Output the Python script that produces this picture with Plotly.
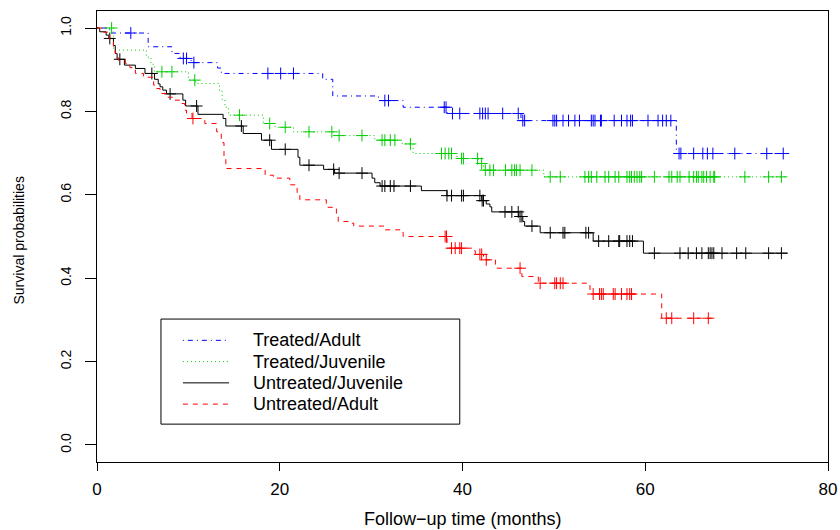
import plotly.graph_objects as go

# ---- Kaplan–Meier estimates (time in months) ----
# Treated/Adult
ta_times = [1.4, 5.6, 8.2, 9.1, 10.3, 13.2, 13.6, 24.7, 25.8, 30.8, 33.5, 38.3, 46.4, 63.4]
ta_surv = [0.988, 0.955, 0.939, 0.927, 0.917, 0.904, 0.891, 0.877, 0.837, 0.826, 0.810, 0.795, 0.778, 0.699]
ta_cens = [3.7, 9.45, 9.8, 10.6, 18.7, 20.1, 21.5, 31.5, 31.9, 38.0, 38.2, 38.9, 39.7, 41.9, 42.2, 42.5,
           42.8, 44.4, 46.1, 46.6, 46.8, 49.9, 50.1, 50.3, 51.0, 51.6, 52.3, 52.8, 54.1, 54.3, 54.5, 55.1,
           55.2, 56.6, 57.4, 58.0, 58.4, 58.6, 60.3, 61.4, 61.9, 62.3, 62.8, 63.7, 63.9, 65.3, 66.3, 66.8,
           67.4, 69.8, 73.3, 75.1]
ta_end = 75.6

# Treated/Juvenile
tj_times = [1.8, 5.4, 5.9, 6.3, 10.0, 10.8, 13.4, 13.7, 14.0, 14.4, 18.2, 19.5, 21.5, 25.9, 30.4, 33.4,
            34.6, 39.4, 41.7, 42.3, 48.9]
tj_surv = [0.947, 0.930, 0.913, 0.895, 0.875, 0.867, 0.848, 0.829, 0.810, 0.791, 0.771, 0.762, 0.751,
           0.742, 0.731, 0.722, 0.699, 0.687, 0.675, 0.659, 0.643]
tj_cens = [1.6, 7.1, 8.2, 10.7, 15.6, 18.9, 20.6, 23.2, 25.7, 26.5, 29.0, 31.2, 31.5, 32.1, 32.6, 34.3,
           37.7, 38.1, 38.5, 38.8, 39.9, 40.1, 41.65, 42.1, 42.5, 43.0, 43.4, 44.7, 45.4, 45.7, 45.9, 46.3,
           47.6, 49.6, 50.7, 53.4, 53.8, 54.1, 54.7, 55.6, 56.0, 56.7, 57.1, 58.0, 58.3, 58.5, 58.8, 59.1,
           59.4, 59.6, 61.0, 62.6, 62.9, 63.5, 63.8, 64.8, 65.3, 65.6, 65.8, 66.2, 66.4, 66.7, 67.1, 67.5,
           67.6, 70.9, 73.5, 74.9]
tj_end = 75.4

# Untreated/Juvenile
uj_times = [0.3, 1.0, 1.3, 1.8, 2.0, 2.2, 3.0, 4.2, 5.25, 6.3, 6.7, 6.9, 7.2, 7.6, 9.4, 9.7, 11.05, 13.8,
            14.1, 16.0, 18.0, 19.1, 22.0, 22.2, 24.8, 26.0, 30.1, 30.4, 30.98, 35.5, 38.3, 42.1, 42.6,
            43.0, 43.2, 46.15, 46.6, 46.8, 48.5, 54.3, 59.8]
uj_surv = [0.991, 0.983, 0.975, 0.958, 0.939, 0.925, 0.911, 0.903, 0.891, 0.877, 0.866, 0.859, 0.851,
           0.842, 0.827, 0.813, 0.793, 0.783, 0.765, 0.747, 0.731, 0.709, 0.690, 0.671, 0.661, 0.652,
           0.640, 0.629, 0.621, 0.610, 0.598, 0.586, 0.578, 0.571, 0.559, 0.548, 0.536, 0.525, 0.509,
           0.489, 0.460]
uj_cens = [1.4, 2.5, 6.0, 8.0, 10.9, 15.8, 18.9, 20.6, 23.2, 25.9, 26.5, 29.0, 31.2, 31.5, 32.1, 32.5,
           34.3, 38.3, 38.8, 39.9, 40.1, 41.9, 42.15, 42.3, 44.65, 45.4, 46.1, 46.3, 46.5, 47.6, 49.6,
           51.0, 51.2, 53.5, 53.8, 54.9, 56.0, 57.1, 57.2, 58.0, 58.3, 58.6, 61.0, 63.8, 64.7, 65.6, 66.2,
           66.9, 67.1, 67.3, 67.5, 68.4, 70.0, 71.0, 73.5, 74.9]
uj_end = 75.6

# Untreated/Adult
ua_times = [0.7, 1.4, 1.8, 2.0, 2.3, 3.1, 3.6, 4.2, 5.1, 6.2, 6.5, 6.9, 7.6, 8.3, 9.3, 9.6, 9.8, 10.4,
            11.8, 13.1, 13.6, 13.9, 14.1, 18.4, 19.3, 21.1, 21.9, 22.2, 25.1, 26.2, 26.4, 27.5, 28.1,
            31.5, 33.5, 38.3, 41.2, 41.4, 42.3, 43.6, 46.5, 48.3, 53.95, 61.8]
ua_surv = [0.990, 0.971, 0.947, 0.939, 0.923, 0.915, 0.905, 0.891, 0.882, 0.863, 0.855, 0.843, 0.834,
           0.827, 0.819, 0.803, 0.795, 0.783, 0.771, 0.751, 0.725, 0.690, 0.663, 0.647, 0.640, 0.624,
           0.605, 0.588, 0.570, 0.553, 0.536, 0.532, 0.525, 0.516, 0.500, 0.472, 0.466, 0.457, 0.444,
           0.424, 0.404, 0.388, 0.362, 0.304]
ua_cens = [10.5, 38.1, 38.25, 38.8, 39.2, 39.7, 39.9, 41.9, 42.1, 42.6, 46.3, 48.5, 50.1, 50.3, 50.7,
           51.0, 54.3, 55.0, 55.2, 55.4, 56.5, 56.7, 57.4, 58.0, 58.3, 58.5, 62.3, 62.9, 65.3, 66.9]
ua_end = 67.5

group_names = ["Treated/Adult", "Treated/Juvenile", "Untreated/Juvenile", "Untreated/Adult"]
group_colors = ["#0000FF", "#00CD00", "#000000", "#FF0000"]
group_dashes = ["1px,4px,5px,4px", "1px,3px", "solid", "5px,5px"]
group_data = [
    (ta_times, ta_surv, ta_cens, ta_end),
    (tj_times, tj_surv, tj_cens, tj_end),
    (uj_times, uj_surv, uj_cens, uj_end),
    (ua_times, ua_surv, ua_cens, ua_end),
]

x_ticks = [0, 20, 40, 60, 80]
y_ticks = [0.0, 0.2, 0.4, 0.6, 0.8, 1.0]
y_tick_text = ["0.0", "0.2", "0.4", "0.6", "0.8", "1.0"]
x_title = "Follow\u2212up time (months)"
y_title = "Survival probabilities"


def surv_at(t, times, surv):
    s = 1.0
    for ti, si in zip(times, surv):
        if ti <= t:
            s = si
        else:
            break
    return s


FONT = "Liberation Sans, Arial, Helvetica, sans-serif"

fig = go.Figure()

for name, color, dash, (times, surv, cens, end) in zip(group_names, group_colors, group_dashes, group_data):
    xs = [0.0] + list(times) + [end]
    ys = [1.0] + list(surv) + [surv[-1]]
    fig.add_trace(go.Scatter(
        x=xs, y=ys, mode="lines", line=dict(color=color, width=1, dash=dash, shape="hv"),
        name=name, showlegend=False, hoverinfo="skip"))
    fig.add_trace(go.Scatter(
        x=cens, y=[surv_at(c, times, surv) for c in cens], mode="markers",
        marker=dict(symbol="cross-thin", size=8.5, line=dict(color=color, width=1)),
        name=name, showlegend=False, hoverinfo="skip"))

# legend box drawn in data coordinates
leg_x0, leg_x1, leg_y0, leg_y1 = 7.0, 39.7, 0.05, 0.302
leg_rows = [0.251, 0.2, 0.149, 0.098]
fig.add_shape(type="rect", xref="x", yref="y", x0=leg_x0, x1=leg_x1, y0=leg_y0, y1=leg_y1,
              line=dict(color="black", width=1), fillcolor="rgba(0,0,0,0)")
for name, color, dash, yy in zip(group_names, group_colors, group_dashes, leg_rows):
    fig.add_shape(type="line", xref="x", yref="y", x0=9.4, x1=14.45, y0=yy, y1=yy,
                  line=dict(color=color, width=1, dash=dash))
    fig.add_annotation(x=16.85, y=yy, xref="x", yref="y", text=name, showarrow=False,
                       xanchor="left", yanchor="middle", font=dict(family=FONT, size=18, color="black"))

# axis titles
fig.add_annotation(x=0.5, y=0, xref="paper", yref="paper", text=x_title, showarrow=False,
                   xanchor="center", yanchor="middle", yshift=-57,
                   font=dict(family=FONT, size=18, color="black"))
fig.add_annotation(x=0, y=0.5, xref="paper", yref="paper", text=y_title, showarrow=False,
                   textangle=-90, xanchor="center", yanchor="middle", xshift=-79, yshift=-4,
                   font=dict(family=FONT, size=14, color="black"))

fig.update_layout(
    width=840, height=530,
    margin=dict(l=97, r=12, t=11, b=68, autoexpand=False),
    paper_bgcolor="white", plot_bgcolor="white",
    font=dict(family=FONT, color="black"),
    showlegend=False,
)
fig.update_xaxes(
    range=[0, 80], tickvals=x_ticks, ticks="outside", ticklen=8, tickcolor="black",
    showline=True, linecolor="black", linewidth=1, mirror=True, showgrid=False, zeroline=False,
    tickfont=dict(family=FONT, size=17, color="black"), ticklabelstandoff=4, automargin=False,
)
fig.update_yaxes(
    range=[-0.0408, 1.0408], tickvals=y_ticks, ticktext=y_tick_text, ticks="outside", ticklen=11,
    tickcolor="black", tickangle=-90,
    showline=True, linecolor="black", linewidth=1, mirror=True, showgrid=False, zeroline=False,
    tickfont=dict(family=FONT, size=14, color="black"), ticklabelstandoff=8, automargin=False,
)

fig.write_html("out.html")
